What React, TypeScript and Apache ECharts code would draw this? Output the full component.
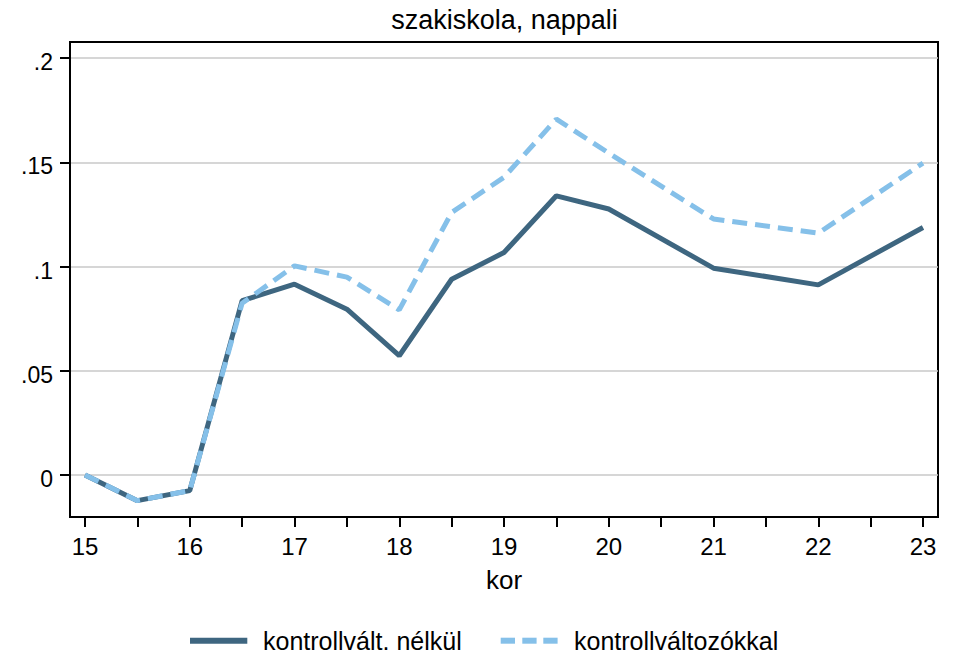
import React, { useEffect, useRef } from "react";
import * as echarts from "echarts";

const ages = [15, 15.5, 16, 16.5, 17, 17.5, 18, 18.5, 19, 19.5, 20, 21, 22, 23];
const noControls = [0, -0.0123, -0.0075, 0.0836, 0.0915, 0.0795, 0.0572, 0.0939, 0.1067, 0.1339, 0.1276, 0.0992, 0.0912, 0.1187];
const withControls = [0, -0.0123, -0.0075, 0.0824, 0.1003, 0.0949, 0.0792, 0.1259, 0.1428, 0.1707, 0.1544, 0.1228, 0.116, 0.1496];
const xTickValues = [15, 15.5, 16, 16.5, 17, 17.5, 18, 18.5, 19, 19.5, 20, 20.5, 21, 21.5, 22, 22.5, 23];
const xLabelValues = [15, 16, 17, 18, 19, 20, 21, 22, 23];
const yTickValues = [0, 0.05, 0.1, 0.15, 0.2];
const seriesNames = ["kontrollvált. nélkül", "kontrollváltozókkal"];
const title = "szakiskola, nappali";
const xName = "kor";

const FONT = "'Liberation Sans', Arial, sans-serif";
const DARK = "#3E6680";
const LIGHT = "#85C0E9";

export default function App() {
  const ref = useRef<HTMLDivElement>(null);
  useEffect(() => {
    if (!ref.current) return;
    const chart = echarts.init(ref.current, null, { renderer: "svg" });
    const fmtY = (v: number) => {
      const s = Math.abs(v) < 1e-9 ? "0" : String(Number(v.toFixed(2))).replace(/^0\./, ".");
      return "{t|" + s + "}";
    };
    const legendText = (text: string, x: number) => ({
      type: "text",
      x,
      y: 628,
      style: { text, fontFamily: FONT, fontSize: 25, fill: "#000", textAlign: "left", textVerticalAlign: "top", verticalAlign: "top" },
    });
    chart.setOption({
      animation: false,
      backgroundColor: "#fff",
      title: {
        text: title,
        left: 504.5,
        textAlign: "center",
        top: 6,
        padding: 0,
        textStyle: { fontFamily: FONT, fontSize: 27, fontWeight: "normal", color: "#000" },
      },
      graphic: [
        { type: "rect", shape: { x: 190, y: 637.7, width: 57.3, height: 6 }, style: { fill: DARK } },
        legendText(seriesNames[0], 263),
        { type: "rect", shape: { x: 500.7, y: 637.7, width: 14.3, height: 6 }, style: { fill: LIGHT } },
        { type: "rect", shape: { x: 522.3, y: 637.7, width: 14.3, height: 6 }, style: { fill: LIGHT } },
        { type: "rect", shape: { x: 543.3, y: 637.7, width: 14.3, height: 6 }, style: { fill: LIGHT } },
        legendText(seriesNames[1], 574),
      ],
      grid: {
        left: 70,
        right: 20,
        top: 42,
        bottom: 136,
        show: true,
        borderColor: "#000",
        borderWidth: 2,
      },
      xAxis: {
        type: "value",
        min: 15 - 15 / 104.75,
        max: 23 + 15 / 104.75,
        name: xName,
        nameLocation: "middle",
        nameGap: 50,
        nameTextStyle: { fontFamily: FONT, fontSize: 26, color: "#000" },
        axisLine: { show: true, onZero: false, lineStyle: { color: "#000", width: 2 } },
        axisTick: { show: true, length: 10, lineStyle: { color: "#000", width: 2 }, customValues: xTickValues },
        axisLabel: { fontFamily: FONT, fontSize: 24, color: "#000", margin: 17, customValues: xLabelValues },
        splitLine: { show: false },
      },
      yAxis: {
        type: "value",
        min: -42 / 2085,
        max: 433 / 2085,
        axisLine: { show: true, onZero: false, lineStyle: { color: "#000", width: 2 } },
        axisTick: { show: true, length: 10, lineStyle: { color: "#000", width: 2 }, customValues: yTickValues },
        axisLabel: {
          fontFamily: FONT,
          fontSize: 23,
          color: "#000",
          margin: 17,
          customValues: yTickValues,
          formatter: fmtY,
          rich: {
            t: { fontFamily: FONT, fontSize: 23, color: "#000", padding: [8, 0, 0, 0] },
          },
        },
        splitLine: { show: true, lineStyle: { color: "#c8c8c8", width: 1.5 } },
      },
      series: [
        {
          name: seriesNames[0],
          type: "line",
          data: ages.map((a, i) => [a, noControls[i]]),
          symbol: "none",
          lineStyle: { color: DARK, width: 5 },
          itemStyle: { color: DARK },
          z: 2,
        },
        {
          name: seriesNames[1],
          type: "line",
          data: ages.map((a, i) => [a, withControls[i]]),
          symbol: "none",
          lineStyle: { color: LIGHT, width: 5, type: [15, 8] },
          itemStyle: { color: LIGHT },
          z: 3,
        },
      ],
    });
    return () => chart.dispose();
  }, []);
  return <div ref={ref} style={{ position: "fixed", left: 0, top: 0, width: 958, height: 653 }} />;
}
